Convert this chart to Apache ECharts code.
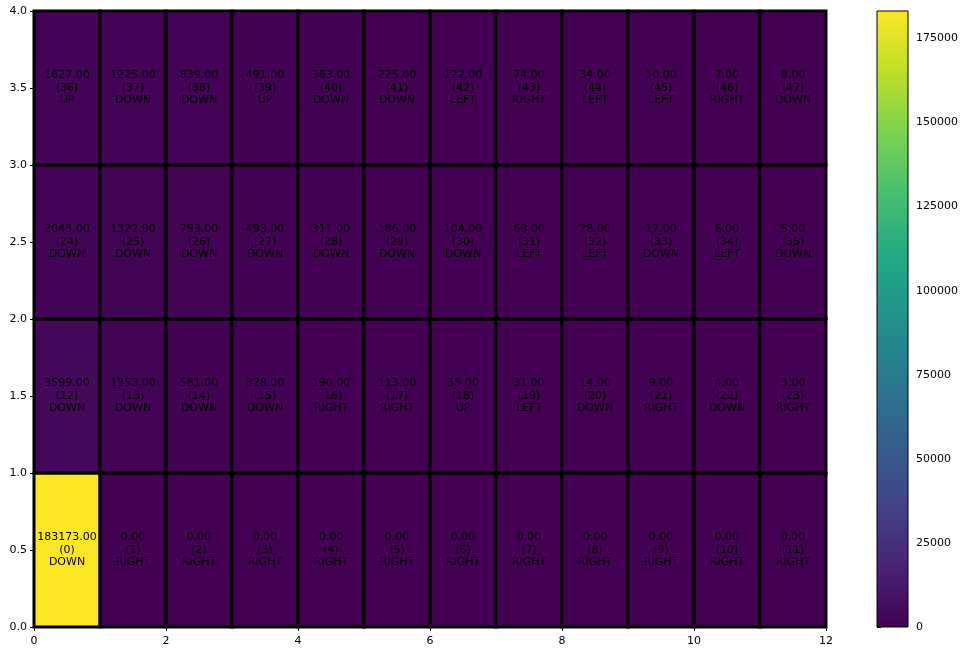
<!DOCTYPE html>
<html>
<head>
<meta charset="utf-8">
<script src="https://cdn.jsdelivr.net/npm/echarts@6/dist/echarts.min.js"></script>
<style>html,body{margin:0;padding:0;background:#fff;}#c{width:965px;height:653px;}</style>
</head>
<body>
<div id="c"></div>
<script>
// Grid values, bottom row (y=0) first
const row0Values = [183173, 0, 0, 0, 0, 0, 0, 0, 0, 0, 0, 0];
const row1Values = [3599, 1353, 581, 328, 190, 113, 55, 31, 14, 9, 4, 3];
const row2Values = [2043, 1322, 793, 493, 311, 186, 104, 63, 28, 17, 6, 5];
const row3Values = [1627, 1225, 839, 491, 363, 225, 122, 74, 34, 10, 7, 8];

const row0Actions = ['DOWN','RIGHT','RIGHT','RIGHT','RIGHT','RIGHT','RIGHT','RIGHT','RIGHT','RIGHT','RIGHT','RIGHT'];
const row1Actions = ['DOWN','DOWN','DOWN','DOWN','RIGHT','RIGHT','UP','LEFT','DOWN','RIGHT','DOWN','RIGHT'];
const row2Actions = ['DOWN','DOWN','DOWN','DOWN','DOWN','DOWN','DOWN','LEFT','LEFT','DOWN','LEFT','DOWN'];
const row3Actions = ['UP','DOWN','DOWN','UP','DOWN','DOWN','LEFT','RIGHT','LEFT','LEFT','RIGHT','DOWN'];

const xTicks = [0, 2, 4, 6, 8, 10, 12];
const yTicks = [0, 0.5, 1, 1.5, 2, 2.5, 3, 3.5, 4];
const colorbarTicks = [0, 25000, 50000, 75000, 100000, 125000, 150000, 175000];
const colorMin = 0;
const colorMax = 183173;

const viridis = ['#440154','#482475','#414487','#355f8d','#2a788e','#21918c','#22a884','#44bf70','#7ad151','#bddf26','#fde725'];

const rowsV = [row0Values, row1Values, row2Values, row3Values];
const rowsA = [row0Actions, row1Actions, row2Actions, row3Actions];
const cells = [];
rowsV.forEach((row, y) => {
  row.forEach((v, x) => {
    cells.push([x, y, v, y * 12 + x, rowsA[y][x]]);
  });
});

const FONT = '"DejaVu Sans", sans-serif';
const chart = echarts.init(document.getElementById('c'), null, {renderer: 'canvas'});

const option = {
  backgroundColor: '#fff',
  animation: false,
  grid: [
    {left: 34, top: 11, width: 792, height: 616},
    {left: 877, top: 11, width: 31, height: 616}
  ],
  xAxis: [
    {gridIndex: 0, type: 'value', min: 0, max: 12, interval: 2,
     axisLine: {show: true, lineStyle: {color: '#000'}},
     axisTick: {show: true, inside: false, length: 4, lineStyle: {color: '#000'}},
     axisLabel: {color: '#000', fontSize: 11, fontFamily: FONT, margin: 9, customValues: xTicks},
     splitLine: {show: false}},
    {gridIndex: 1, type: 'value', min: 0, max: 1, show: false}
  ],
  yAxis: [
    {gridIndex: 0, type: 'value', min: 0, max: 4, interval: 0.5,
     axisLine: {show: true, lineStyle: {color: '#000'}},
     axisTick: {show: true, inside: false, length: 4, lineStyle: {color: '#000'}},
     axisLabel: {color: '#000', fontSize: 11, fontFamily: FONT, margin: 7,
                 customValues: yTicks, formatter: v => Number(v).toFixed(1)},
     splitLine: {show: false}},
    {gridIndex: 1, type: 'value', min: colorMin, max: colorMax, position: 'right',
     axisLine: {show: false},
     axisTick: {show: true, inside: false, length: 4, lineStyle: {color: '#000'}, customValues: colorbarTicks},
     axisLabel: {color: '#000', fontSize: 11, fontFamily: FONT, margin: 8, customValues: colorbarTicks,
                 formatter: v => String(Math.round(v))},
     splitLine: {show: false}}
  ],
  visualMap: {
    show: false, type: 'continuous', seriesIndex: 0, dimension: 2,
    min: colorMin, max: colorMax, inRange: {color: viridis}
  },
  series: [
    {
      type: 'custom', xAxisIndex: 0, yAxisIndex: 0,
      data: cells,
      encode: {x: 0, y: 1},
      renderItem: function (params, api) {
        const x = api.value(0), y = api.value(1);
        const p0 = api.coord([x, y + 1]);
        const p1 = api.coord([x + 1, y]);
        const d = cells[params.dataIndex];
        const txt = Number(d[2]).toFixed(2) + '\n(' + d[3] + ')\n' + d[4];
        return {
          type: 'group',
          children: [
            {type: 'rect', shape: {x: p0[0], y: p0[1], width: p1[0] - p0[0], height: p1[1] - p0[1]},
             style: {fill: api.visual('color'), stroke: '#000', lineWidth: 3}},
            {type: 'text', z2: 10,
             style: {text: txt, x: (p0[0] + p1[0]) / 2, y: (p0[1] + p1[1]) / 2,
                     align: 'center', verticalAlign: 'middle', fill: '#000',
                     fontSize: 11, fontFamily: FONT, lineHeight: 12.5}}
          ]
        };
      }
    },
    {
      type: 'custom', xAxisIndex: 1, yAxisIndex: 1,
      data: [[0, colorMin, colorMax]],
      renderItem: function (params, api) {
        const top = api.coord([0, api.value(2)]);
        const bot = api.coord([1, api.value(1)]);
        const stops = viridis.map((c, i) => ({offset: i / (viridis.length - 1), color: c}));
        return {
          type: 'rect',
          shape: {x: top[0], y: top[1], width: bot[0] - top[0], height: bot[1] - top[1]},
          style: {fill: new echarts.graphic.LinearGradient(0, 1, 0, 0, stops), stroke: '#000', lineWidth: 1}
        };
      }
    }
  ]
};
chart.setOption(option);
</script>
</body>
</html>
